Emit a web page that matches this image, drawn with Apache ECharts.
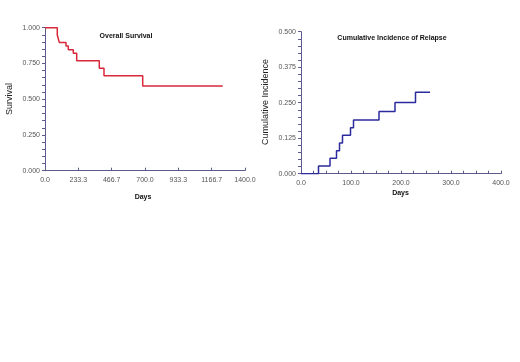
<!DOCTYPE html>
<html><head><meta charset="utf-8">
<script src="https://cdn.jsdelivr.net/npm/echarts@6/dist/echarts.min.js"></script>
<style>html,body{margin:0;padding:0;background:#fff}#c{width:520px;height:362px}</style>
</head><body><div id="c"></div>
<script>
// Overall survival (Kaplan-Meier)
const osDays = [0, 86, 100, 147, 163, 198, 222, 380, 413, 684, 1244];
const osSurv = [1.0, 0.949, 0.897, 0.872, 0.846, 0.821, 0.769, 0.716, 0.664, 0.592, 0.592];
// Cumulative incidence of relapse
const relDays = [0, 35, 58, 71, 77, 83, 99, 105, 156, 188, 229, 258];
const relInc = [0, 0.027, 0.054, 0.081, 0.108, 0.135, 0.162, 0.189, 0.219, 0.251, 0.287, 0.287];
// Tick settings
const osXMax = 1400, osXInterval = 1400 / 6;
const relXMax = 400, relXInterval = 100;
const osYInterval = 0.25, relYInterval = 0.125;

const FONT = 'Liberation Sans, Arial, sans-serif';
const axisCol = '#5c5c8c';
const labCol = '#555';

function xAxis(idx, max, interval, minorSplit) {
  return {
    type: 'value', gridIndex: idx, min: 0, max: max, interval: interval,
    axisLine: {show: true, onZero: false, lineStyle: {color: axisCol, width: 1}},
    axisTick: {show: true, inside: true, length: 3, lineStyle: {color: axisCol}},
    minorTick: {show: minorSplit > 0, splitNumber: minorSplit || 5, length: 3, lineStyle: {color: axisCol}},
    axisLabel: {color: labCol, fontSize: 7, fontFamily: FONT, margin: 6,
      formatter: v => v.toFixed(1)},
    splitLine: {show: false}, minorSplitLine: {show: false}
  };
}
function yAxis(idx, max, interval) {
  return {
    type: 'value', gridIndex: idx, min: 0, max: max, interval: interval,
    axisLine: {show: true, lineStyle: {color: axisCol, width: 1}},
    axisTick: {show: true, length: 3, lineStyle: {color: axisCol}},
    minorTick: {show: true, splitNumber: 5, length: 3, lineStyle: {color: axisCol}},
    axisLabel: {color: labCol, fontSize: 7, fontFamily: FONT, margin: 5,
      formatter: v => v.toFixed(3)},
    splitLine: {show: false}, minorSplitLine: {show: false}
  };
}

const chart = echarts.init(document.getElementById('c'), null, {renderer: 'canvas'});
chart.setOption({
  animation: false,
  backgroundColor: '#fff',
  grid: [
    {left: 45, top: 27.7, width: 200, height: 143},
    {left: 301, top: 31.7, width: 200, height: 142}
  ],
  xAxis: [xAxis(0, osXMax, osXInterval, 0), xAxis(1, relXMax, relXInterval, 4)],
  yAxis: [yAxis(0, 1, osYInterval), yAxis(1, 0.5, relYInterval)],
  series: [
    {type: 'line', xAxisIndex: 0, yAxisIndex: 0, step: 'end', showSymbol: false,
      lineStyle: {color: '#d8283a', width: 1.5},
      data: osDays.map((d, i) => [d, osSurv[i]])},
    {type: 'line', xAxisIndex: 1, yAxisIndex: 1, step: 'end', showSymbol: false,
      lineStyle: {color: '#2b2b9e', width: 1.5},
      data: relDays.map((d, i) => [d, relInc[i]])}
  ],
  graphic: [
    {type: 'text', x: 126, y: 36, style: {text: 'Overall Survival', font: 'bold 7px ' + FONT, fill: '#111', align: 'center', verticalAlign: 'middle'}},
    {type: 'text', x: 392, y: 38.5, style: {text: 'Cumulative Incidence of Relapse', font: 'bold 7px ' + FONT, fill: '#111', align: 'center', verticalAlign: 'middle'}},
    {type: 'text', x: 143, y: 197, style: {text: 'Days', font: 'bold 7px ' + FONT, fill: '#111', align: 'center', verticalAlign: 'middle'}},
    {type: 'text', x: 400.5, y: 193.5, style: {text: 'Days', font: 'bold 7px ' + FONT, fill: '#111', align: 'center', verticalAlign: 'middle'}},
    {type: 'text', x: 9.5, y: 99, rotation: Math.PI / 2, style: {text: 'Survival', font: '9px ' + FONT, fill: '#222', align: 'center', verticalAlign: 'middle'}},
    {type: 'text', x: 265.5, y: 102, rotation: Math.PI / 2, style: {text: 'Cumulative Incidence', font: '9px ' + FONT, fill: '#222', align: 'center', verticalAlign: 'middle'}}
  ]
});
</script></body></html>
